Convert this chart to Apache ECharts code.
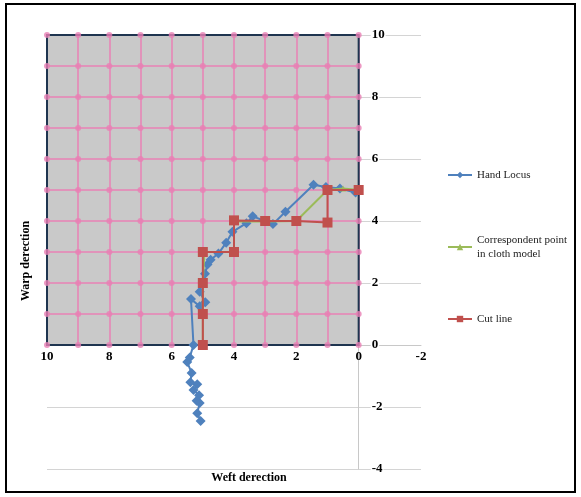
<!DOCTYPE html>
<html>
<head>
<meta charset="utf-8">
<script src="https://cdn.jsdelivr.net/npm/echarts@6/dist/echarts.min.js"></script>
<style>
html,body{margin:0;padding:0;background:#fff;}
#chart{width:581px;height:497px;}
</style>
</head>
<body>
<div id="chart"></div>
<script>
// ---- data ----
const handLocus = [
  [5.07,-2.45],[5.18,-2.2],[5.1,-1.87],[5.2,-1.8],[5.12,-1.62],[5.3,-1.45],[5.18,-1.27],
  [5.4,-1.2],[5.36,-0.9],[5.5,-0.55],[5.42,-0.4],[5.3,0.0],[5.38,1.48],[5.1,1.25],
  [4.92,1.38],[5.1,1.72],[4.93,2.3],[4.85,2.6],[4.75,2.75],[4.5,2.95],[4.25,3.3],
  [4.05,3.65],[3.6,3.93],[3.4,4.15],[3.0,4.0],[2.75,3.9],[2.35,4.3],[1.45,5.17],
  [1.05,5.1],[0.6,5.05],[0.1,4.92]
];
const correspondent = [
  [5,0],[5,1],[5,2],[4.95,3],[4,3],[4,3.98],[3,3.98],[2,4],[1,5],[0.5,5.05],[0,5]
];
const cutLine = [
  [5,0],[5,1],[5,2],[5,3],[4,3],[4,4.02],[3,4],[2,4],[1,3.95],[1,5],[0,5]
];
const seriesNames = ['Hand Locus', 'Correspondent point\nin cloth model', 'Cut line'];
const clothTicks = [0,1,2,3,4,5,6,7,8,9,10];

// ---- layout ----
const W = 581, H = 497;
const L = 47, R = 160, T = 35, B = 28;
const xMin = -2, xMax = 10, yMin = -4, yMax = 10;
const pw = W - L - R, ph = H - T - B;
const ux = pw / (xMax - xMin), uy = ph / (yMax - yMin);
const clothW = (10 - 0) * ux, clothH = (10 - 0) * uy;
const clothTop = T + (yMax - 10) * uy;
const zeroRowH = (yMax - 0) * uy;   // grid whose bottom edge is y = 0
const zeroColW = (xMax - 0) * ux;   // grid whose right edge is x = 0

const dots = [];
clothTicks.forEach(a => clothTicks.forEach(b => dots.push([a, b])));

const serif = '"Liberation Serif", "Times New Roman", serif';
const labelStyle = {fontFamily: serif, fontWeight: 'bold', fontSize: 13, color: '#000'};
const hiddenAxis = {show: false};

const chart = echarts.init(document.getElementById('chart'), null, {renderer: 'canvas'});
chart.setOption({
  backgroundColor: '#fff',
  animation: false,
  grid: [
    {left: L, right: R, top: T, bottom: B, z: 0},
    {left: L, top: clothTop, width: clothW, height: clothH, show: true,
     backgroundColor: '#c9c9c9', borderWidth: 0, z: 1},
    {left: L, top: T, width: pw, height: zeroRowH, z: 0},
    {left: L, top: T, width: zeroColW, height: ph, z: 0},
    {left: L, top: clothTop, width: clothW, height: clothH, show: true,
     backgroundColor: 'transparent', borderColor: '#1f3550', borderWidth: 2, z: 2}
  ],
  xAxis: [
    {type: 'value', gridIndex: 0, min: xMin, max: xMax, interval: 2, inverse: true,
     axisLine: {show: false, onZero: false}, axisTick: {show: false},
     axisLabel: {show: false}, splitLine: {show: false}},
    {type: 'value', gridIndex: 1, min: 0, max: 10, interval: 1, inverse: true, z: 1,
     axisLine: {show: false}, axisTick: {show: false}, axisLabel: {show: false},
     splitLine: {show: true, lineStyle: {color: '#e880b4', width: 1.5}}},
    {type: 'value', gridIndex: 2, min: xMin, max: xMax, interval: 2, inverse: true, position: 'bottom',
     axisLine: {show: true, onZero: false, lineStyle: {color: '#c8c8c8', width: 1}},
     axisTick: {show: false}, splitLine: {show: false},
     axisLabel: Object.assign({margin: 5}, labelStyle)},
    {type: 'value', gridIndex: 3, min: 0, max: 10, show: false},
    {type: 'value', gridIndex: 4, min: 0, max: 10, show: false}
  ],
  yAxis: [
    {type: 'value', gridIndex: 0, min: yMin, max: yMax, interval: 2,
     axisLine: {show: false, onZero: false}, axisTick: {show: false}, axisLabel: {show: false},
     splitLine: {show: true, lineStyle: {color: '#d4d4d4', width: 1}}},
    {type: 'value', gridIndex: 1, min: 0, max: 10, interval: 1, z: 1,
     axisLine: {show: false}, axisTick: {show: false}, axisLabel: {show: false},
     splitLine: {show: true, lineStyle: {color: '#e880b4', width: 1.5}}},
    {type: 'value', gridIndex: 2, min: 0, max: 10, show: false},
    {type: 'value', gridIndex: 3, min: yMin, max: yMax, interval: 2, position: 'right',
     axisLine: {show: true, onZero: false, lineStyle: {color: '#c8c8c8', width: 1}},
     axisTick: {show: false}, splitLine: {show: false},
     axisLabel: Object.assign({margin: 12, backgroundColor: '#fff', padding: [0, 1]}, labelStyle)},
    {type: 'value', gridIndex: 4, min: 0, max: 10, show: false}
  ],
  legend: {
    orient: 'vertical', left: 447, top: 168, padding: 0, itemGap: 44, itemWidth: 24, itemHeight: 8,
    textStyle: {fontFamily: serif, fontSize: 11, color: '#222', lineHeight: 14},
    data: [
      {name: seriesNames[0]},
      {name: seriesNames[1], textStyle: {padding: [14, 0, 0, 0]}},
      {name: seriesNames[2]}
    ]
  },
  graphic: [
    {type: 'rect', shape: {x: 6, y: 4, width: 569, height: 488}, style: {fill: 'none', stroke: '#000', lineWidth: 2}, z: 100},
    {type: 'text', x: 249, y: 478, style: {text: 'Weft derection', font: 'bold 12px ' + serif, fill: '#000', textAlign: 'center', textVerticalAlign: 'middle'}},
    {type: 'text', x: 26, y: 261, rotation: Math.PI / 2, style: {text: 'Warp derection', font: 'bold 12px ' + serif, fill: '#000', textAlign: 'center', textVerticalAlign: 'middle'}}
  ],
  series: [
    {type: 'scatter', xAxisIndex: 1, yAxisIndex: 1, data: dots, symbol: 'circle', symbolSize: 6,
     itemStyle: {color: '#e880b4'}, silent: true, z: 3},
    {name: seriesNames[0], type: 'line', xAxisIndex: 0, yAxisIndex: 0, data: handLocus,
     symbol: 'diamond', symbolSize: 10, lineStyle: {color: '#4f81bd', width: 2},
     itemStyle: {color: '#4f81bd'}, z: 4},
    {name: seriesNames[1], type: 'line', xAxisIndex: 0, yAxisIndex: 0, data: correspondent,
     symbol: 'triangle', symbolSize: 6, lineStyle: {color: '#9bbb59', width: 2},
     itemStyle: {color: '#9bbb59'}, z: 5},
    {name: seriesNames[2], type: 'line', xAxisIndex: 0, yAxisIndex: 0, data: cutLine,
     symbol: 'rect', symbolSize: 10, lineStyle: {color: '#c0504d', width: 2},
     itemStyle: {color: '#c0504d'}, z: 6}
  ]
});
</script>
</body>
</html>
